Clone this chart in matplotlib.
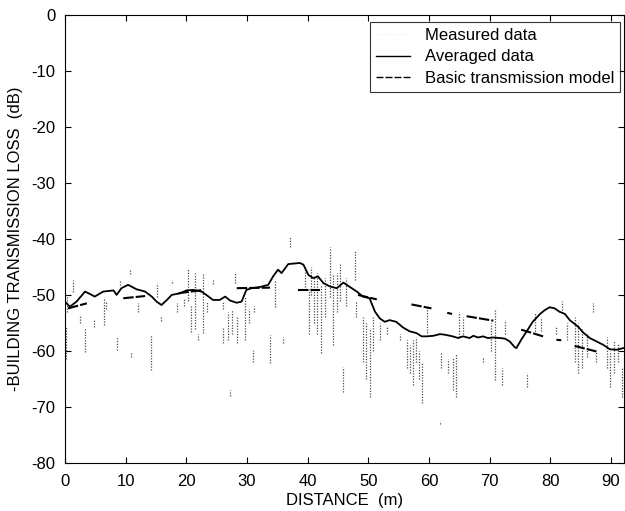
import matplotlib
matplotlib.use("Agg")
import matplotlib.pyplot as plt
from matplotlib.lines import Line2D

plt.rcParams['font.family'] = ['Liberation Sans', 'DejaVu Sans']
plt.rcParams['axes.unicode_minus'] = False

# ---- Averaged data ----
avg_x = [0.0, 0.8, 1.9, 3.3, 4.4, 4.9, 6.3, 8.0, 8.5, 9.3, 10.4, 11.8, 13.2, 14.3, 15.1,
         15.9, 16.8, 17.6, 19.0, 20.0, 21.1, 22.5, 23.3, 24.4, 25.5, 26.4, 27.2, 28.3,
         29.1, 29.9, 30.8, 32.1, 33.5, 34.3, 35.1, 35.7, 36.8, 38.7, 39.3, 40.1, 40.9,
         41.7, 42.6, 43.7, 44.8, 45.9, 46.7, 48.1, 49.1, 50.2, 51.1, 51.9, 52.7, 53.5,
         54.6, 55.7, 56.8, 57.9, 58.8, 59.6, 60.7, 61.8, 62.6, 63.9, 64.8, 65.6, 66.7,
         67.3, 68.1, 68.9, 69.7, 70.6, 71.7, 72.5, 73.3, 74.1, 74.4, 75.2, 76.1, 77.1,
         78.3, 79.1, 79.9, 80.7, 81.5, 82.4, 83.2, 84.6, 85.4, 86.5, 87.6, 88.7, 89.8,
         90.9, 92.0]
avg_y = [-51.2, -52.1, -51.2, -49.4, -50.0, -50.3, -49.4, -49.2, -50.0, -48.8, -48.2,
         -49.0, -49.4, -50.3, -51.2, -51.8, -50.9, -50.0, -49.7, -49.2, -49.1, -49.4,
         -50.0, -50.9, -50.9, -50.3, -51.0, -51.4, -51.2, -49.1, -48.8, -48.6, -48.2,
         -46.7, -45.5, -46.1, -44.5, -44.3, -44.6, -46.4, -47.0, -46.7, -47.9, -48.5,
         -48.8, -47.8, -48.4, -49.4, -50.3, -50.6, -53.0, -54.2, -54.8, -54.5, -54.8,
         -55.8, -56.5, -56.8, -57.4, -57.4, -57.3, -57.0, -57.1, -57.4, -57.7, -57.4,
         -57.7, -57.3, -57.6, -57.4, -57.7, -57.6, -57.7, -57.8, -58.3, -59.3, -59.5,
         -58.0, -56.5, -54.8, -53.4, -52.7, -52.2, -52.4, -53.0, -53.4, -54.5, -55.7,
         -56.7, -57.7, -58.3, -58.9, -59.7, -59.8, -59.5]

# ---- Basic transmission model (piecewise segments) ----
model_x0 = [0.5, 9.6, 18.7, 28.3, 38.4, 48.3, 57.1, 63.0, 66.2, 75.2, 81.0, 84.0]
model_x1 = [3.6, 13.2, 22.8, 33.8, 42.0, 51.4, 60.4, 63.8, 70.6, 78.8, 81.8, 87.6]
model_y0 = [-52.4, -50.6, -49.7, -48.8, -49.2, -50.0, -51.7, -53.2, -53.8, -56.2, -58.0, -59.1]
model_y1 = [-51.5, -50.2, -49.1, -48.7, -49.2, -50.8, -52.4, -53.4, -54.6, -57.4, -58.1, -60.1]

# ---- Measured data (vertical excursions: position, top, bottom) ----
meas_x = [0.2, 0.3, 1.4, 2.5, 3.3, 4.7, 6.4, 6.7, 8.5, 9.1, 10.7, 10.9, 12.0, 14.2, 15.1,
          15.8, 17.6, 18.5, 19.6, 20.3, 20.8, 21.5, 21.9, 22.7, 23.4, 24.4, 26.0, 26.1,
          26.8, 27.2, 27.5, 28.0, 28.3, 29.7, 30.3, 31.0, 31.2, 33.8, 34.6, 35.9, 37.1,
          39.6, 40.2, 40.6, 41.0, 41.6, 42.2, 42.8, 43.7, 44.2, 44.8, 45.3, 45.8, 46.3,
          47.8, 48.0, 49.1, 49.6, 50.2, 50.7, 51.9, 53.0, 55.2, 56.3, 56.8, 57.3, 57.8,
          58.3, 58.8, 59.6, 61.8, 62.0, 63.1, 64.0, 64.5, 64.9, 65.6, 68.9, 70.3, 70.8,
          72.0, 72.5, 76.1, 77.4, 78.5, 81.0, 81.9, 82.7, 84.0, 84.6, 85.2, 86.0, 87.0,
          87.5, 89.3, 89.8, 90.5, 91.2, 91.8]
meas_top = [-55.5, -50.0, -47.3, -53.8, -55.9, -54.4, -50.5, -51.0, -57.5, -47.5, -45.6,
            -60.3, -51.5, -57.1, -47.9, -54.0, -47.3, -51.5, -50.5, -45.2, -52.0, -46.0,
            -57.0, -46.0, -51.0, -47.2, -51.2, -55.9, -53.0, -67.0, -52.7, -46.0, -54.0,
            -50.3, -52.5, -59.8, -52.0, -57.1, -47.3, -57.5, -39.5, -45.5, -49.0, -45.0,
            -47.0, -46.0, -48.0, -47.0, -41.4, -46.5, -46.0, -44.5, -62.9, -47.0, -42.0,
            -51.0, -53.9, -55.0, -56.0, -54.0, -55.0, -55.5, -57.0, -58.0, -59.0, -58.0,
            -57.5, -60.0, -62.0, -52.0, -72.5, -60.4, -61.5, -61.0, -60.5, -53.0, -54.0,
            -61.0, -55.0, -52.7, -63.0, -54.5, -64.0, -53.0, -54.0, -55.5, -51.0, -55.0,
            -54.0, -55.0, -56.0, -57.0, -51.5, -60.0, -57.5, -60.0, -58.0, -58.5, -62.9]
meas_bot = [-61.5, -53.0, -49.5, -55.0, -60.2, -55.7, -55.4, -52.5, -59.8, -48.2, -46.2,
            -61.0, -53.0, -63.4, -50.3, -54.6, -47.9, -53.0, -52.0, -51.0, -56.6, -56.0,
            -58.0, -56.8, -53.0, -48.0, -52.6, -58.6, -58.0, -68.0, -57.0, -47.9, -58.6,
            -58.0, -55.0, -62.0, -53.0, -62.1, -52.1, -58.5, -41.4, -48.5, -57.0, -50.0,
            -55.0, -57.0, -60.4, -54.0, -50.3, -59.0, -53.0, -51.0, -67.3, -52.0, -47.3,
            -54.0, -62.0, -65.0, -68.2, -60.0, -58.0, -57.0, -58.0, -63.0, -64.0, -66.0,
            -62.0, -65.0, -69.3, -56.8, -73.0, -63.0, -64.0, -67.0, -68.2, -57.5, -57.0,
            -62.0, -60.0, -65.2, -66.0, -57.0, -66.5, -57.0, -56.5, -57.0, -52.7, -58.0,
            -62.0, -64.0, -63.0, -61.0, -53.0, -62.0, -63.0, -66.4, -64.0, -62.0, -68.2]

x_ticks = [0, 10, 20, 30, 40, 50, 60, 70, 80, 90]
y_ticks = [-80, -70, -60, -50, -40, -30, -20, -10, 0]

fig = plt.figure(figsize=(6.25, 5.11), dpi=100)
ax = fig.add_axes([0.104, 0.094, 0.894, 0.877])

ax.vlines(meas_x, meas_bot, meas_top, colors='0.3', linestyles=(0, (1, 1.2)), linewidth=0.9)
ax.plot(avg_x, avg_y, color='black', linewidth=1.3)
for x0, x1, y0, y1 in zip(model_x0, model_x1, model_y0, model_y1):
    ax.plot([x0, x1], [y0, y1], color='black', linewidth=1.5, linestyle=(0, (5, 1)))

ax.set_xlim(0, 92.1)
ax.set_ylim(-80, 0)
ax.set_xticks(x_ticks)
ax.set_yticks(y_ticks)
ax.tick_params(direction='in', length=4, width=0.8, top=True, right=True, labelsize=12)
ax.tick_params(axis='x', pad=8)
ax.tick_params(axis='y', pad=7)
for s in ax.spines.values():
    s.set_linewidth(0.8)

ax.set_xlabel('DISTANCE  (m)', fontsize=12, labelpad=3)
ax.set_ylabel('-BUILDING TRANSMISSION LOSS  (dB)', fontsize=12, labelpad=6)

handles = [Line2D([], [], color='0.9', linestyle=':', linewidth=0.5),
           Line2D([], [], color='black', linewidth=1.0),
           Line2D([], [], color='black', linewidth=1.0, linestyle=(0, (5, 1.5)))]
labels = ['Measured data', 'Averaged data', 'Basic transmission model']
leg = ax.legend(handles, labels, loc='upper right', bbox_to_anchor=(0.993, 0.984),
                fontsize=12, frameon=True, fancybox=False, edgecolor='black',
                handlelength=2.0, handletextpad=0.9, labelspacing=0.4,
                borderaxespad=0.0, borderpad=0.35)
leg.get_frame().set_linewidth(0.8)

fig.savefig('out.png', dpi=100)
